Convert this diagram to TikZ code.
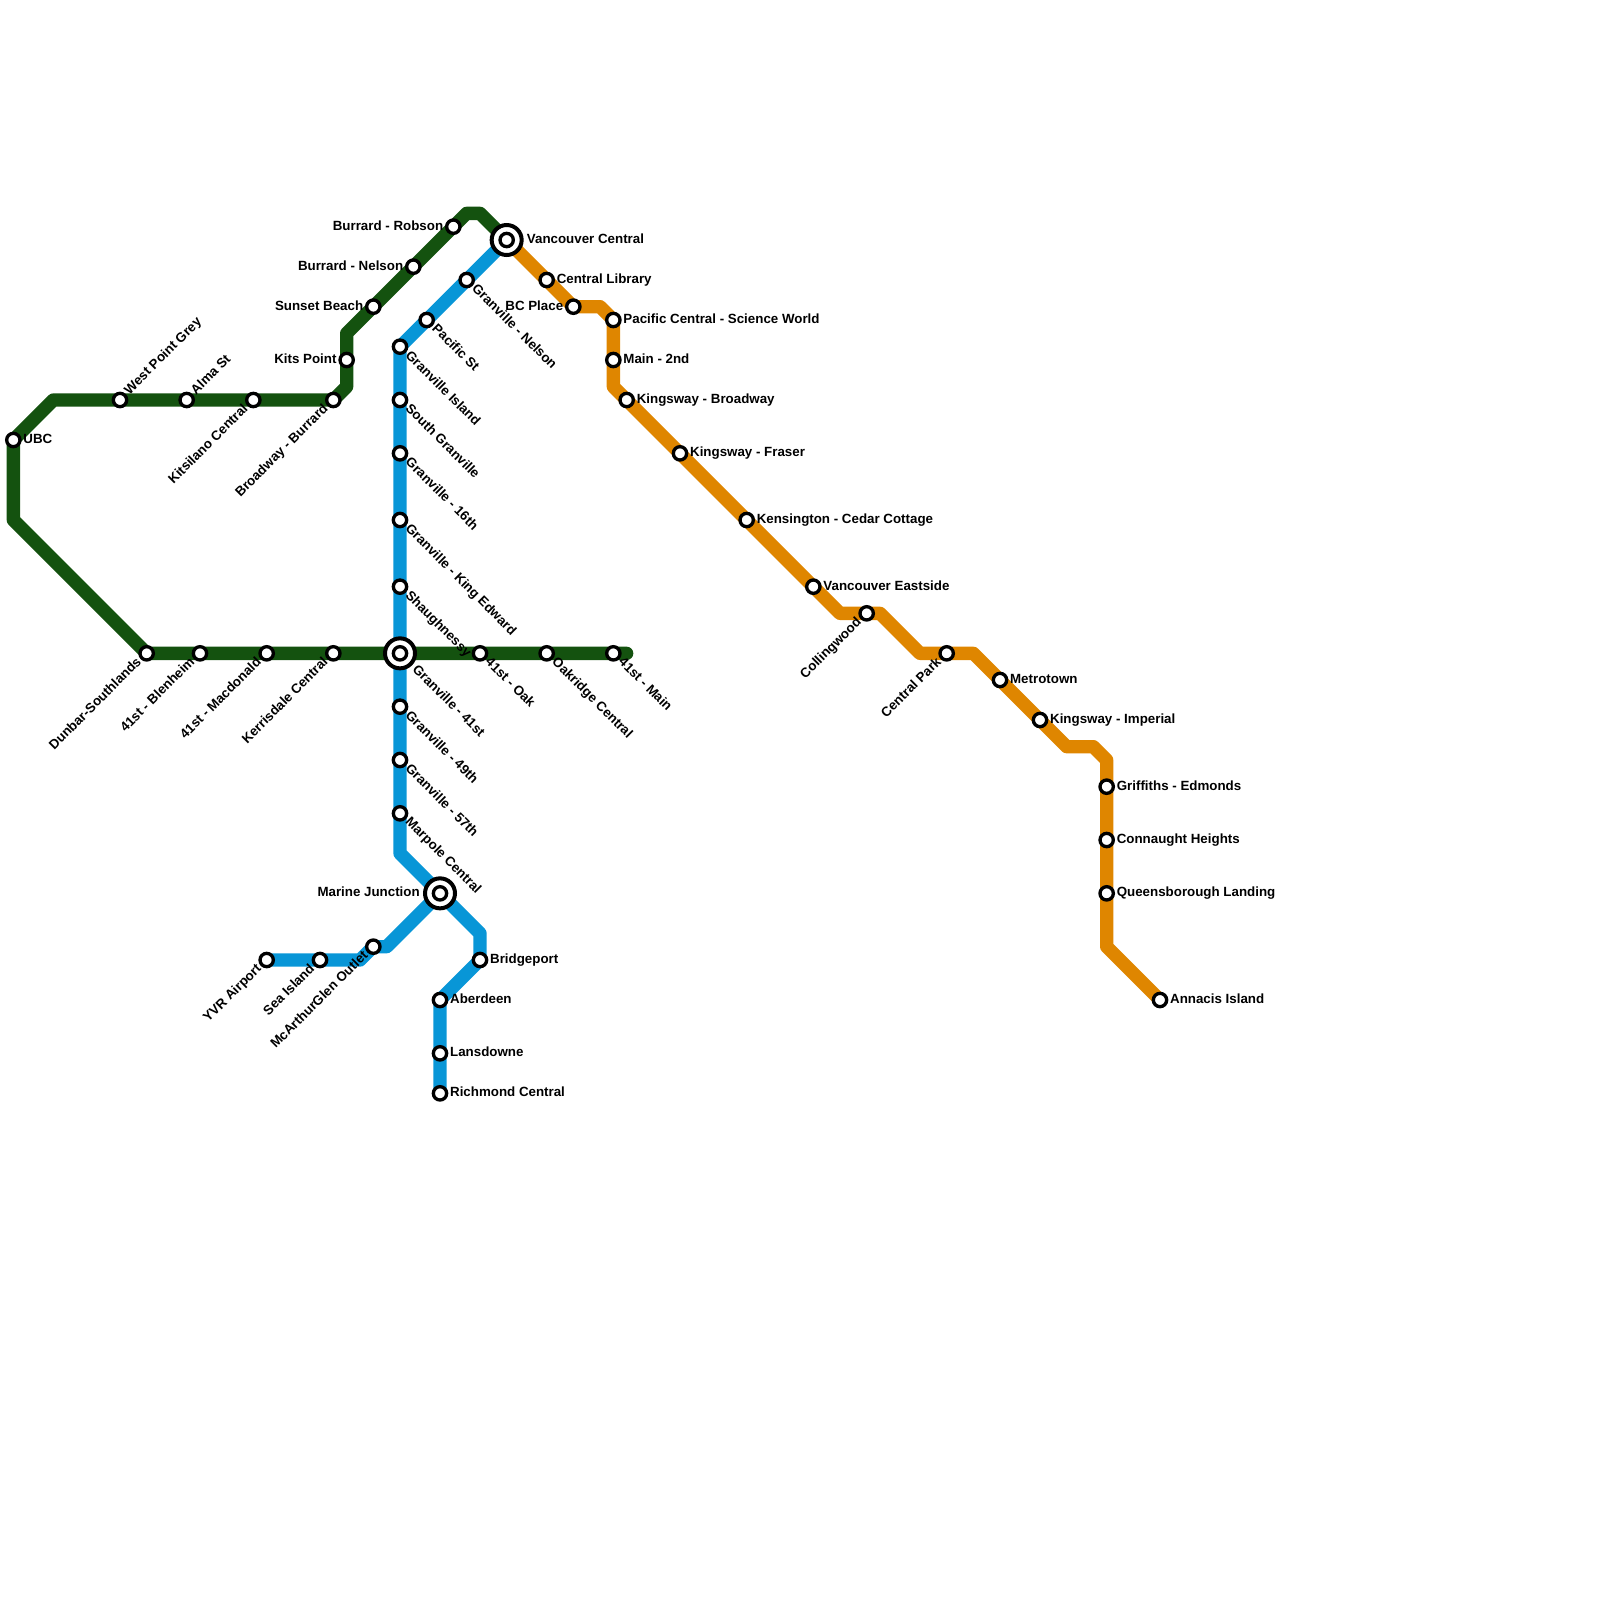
\documentclass[tikz,border=0pt]{standalone}
\usepackage{fontspec}
\setmainfont{Liberation Sans}
\usetikzlibrary{backgrounds}
\definecolor{greenline}{HTML}{14520F}
\definecolor{blueline}{HTML}{0896D7}
\definecolor{orangeline}{HTML}{DF8600}
\tikzset{
  route/.style={line width=10pt, line cap=round, line join=round},
  stn/.style={circle, draw=black, fill=white, line width=2.5pt, inner sep=0pt, minimum size=10pt},
  hubring/.style={circle, draw=black, fill=white, line width=3pt, inner sep=0pt, minimum size=22.5pt},
  tag/.style={font=\bfseries, text=black, inner ysep=0pt, text height=5pt, text depth=0pt},
  tage/.style={tag, anchor=west, inner xsep=7.4pt},
  tagw/.style={tag, anchor=east, inner xsep=7.4pt},
  tagne/.style={tage, rotate=45},
  tagse/.style={tage, rotate=-45},
  tagsw/.style={tagw, rotate=45},
  hubtage/.style={tage, inner xsep=15pt},
  hubtagw/.style={tagw, inner xsep=15pt},
  hubtagse/.style={tagse, inner xsep=15pt},
}
\begin{document}
\begin{tikzpicture}[x=10pt, y=-10pt]
  \useasboundingbox (0, 0) rectangle (120, 120);
  % interchanges
  \foreach \id/\x/\y/\side/\txt in {
    vancouver/38/18/hubtage/Vancouver Central,
    granville/30/49/hubtagse/Granville - 41st,
    marine/33/67/hubtagw/Marine Junction} {
    \node[hubring] (\id) at (\x, \y) {};
    \node[stn] (\id dot) at (\id) {};
    \node[\side] (\id tag) at (\id) {\txt};
  }
  % green stations
  \foreach \id/\x/\y/\side/\txt in {
    ubc/1/33/tage/UBC,
    westpoint/9/30/tagne/West Point Grey,
    alma/14/30/tagne/Alma St,
    kitsilano/19/30/tagsw/Kitsilano Central,
    broadway/25/30/tagsw/Broadway - Burrard,
    kits/26/27/tagw/Kits Point,
    sunset/28/23/tagw/Sunset Beach,
    nelson/31/20/tagw/Burrard - Nelson,
    robson/34/17/tagw/Burrard - Robson,
    dunbar/11/49/tagsw/Dunbar-Southlands,
    blenheim/15/49/tagsw/41st - Blenheim,
    macdonald/20/49/tagsw/41st - Macdonald,
    kerrisdale/25/49/tagsw/Kerrisdale Central,
    oak/36/49/tagse/41st - Oak,
    oakridge/41/49/tagse/Oakridge Central,
    mainst/46/49/tagse/41st - Main} {
    \node[stn] (\id) at (\x, \y) {};
    \node[\side] (\id tag) at (\id) {\txt};
  }
  % blue stations
  \foreach \id/\x/\y/\side/\txt in {
    grnelson/35/21/tagse/Granville - Nelson,
    pacific/32/24/tagse/Pacific St,
    island/30/26/tagse/Granville Island,
    southgr/30/30/tagse/South Granville,
    gr16/30/34/tagse/Granville - 16th,
    kinged/30/39/tagse/Granville - King Edward,
    shaugh/30/44/tagse/Shaughnessy,
    gr49/30/53/tagse/Granville - 49th,
    gr57/30/57/tagse/Granville - 57th,
    marpole/30/61/tagse/Marpole Central,
    mcarthur/28/71/tagsw/McArthurGlen Outlet,
    seaisland/24/72/tagsw/Sea Island,
    yvr/20/72/tagsw/YVR Airport,
    bridgeport/36/72/tage/Bridgeport,
    aberdeen/33/75/tage/Aberdeen,
    lansdowne/33/79/tage/Lansdowne,
    richmond/33/82/tage/Richmond Central} {
    \node[stn] (\id) at (\x, \y) {};
    \node[\side] (\id tag) at (\id) {\txt};
  }
  % orange stations
  \foreach \id/\x/\y/\side/\txt in {
    library/41/21/tage/Central Library,
    bcplace/43/23/tagw/BC Place,
    science/46/24/tage/Pacific Central - Science World,
    main2nd/46/27/tage/Main - 2nd,
    kbroadway/47/30/tage/Kingsway - Broadway,
    fraser/51/34/tage/Kingsway - Fraser,
    kensington/56/39/tage/Kensington - Cedar Cottage,
    eastside/61/44/tage/Vancouver Eastside,
    collingwood/65/46/tagsw/Collingwood,
    centralpark/71/49/tagsw/Central Park,
    metrotown/75/51/tage/Metrotown,
    imperial/78/54/tage/Kingsway - Imperial,
    griffiths/83/59/tage/Griffiths - Edmonds,
    connaught/83/63/tage/Connaught Heights,
    queensb/83/67/tage/Queensborough Landing,
    annacis/87/75/tage/Annacis Island} {
    \node[stn] (\id) at (\x, \y) {};
    \node[\side] (\id tag) at (\id) {\txt};
  }
  \coordinate (greenend) at (47, 49);
  \begin{scope}[on background layer]
    \draw[route, orangeline] (vancouver.center) -- (bcplace.center) -- (45, 23) -- (science.center)
      -- (46, 29) -- (63, 46) -- (66, 46) -- (69, 49) -- (73, 49) -- (80, 56) -- (82, 56)
      -- (83, 57) -- (83, 71) -- (annacis.center);
    \draw[route, greenline] (greenend) -- (dunbar.center) -- (1, 39) -- (ubc.center) -- (4, 30)
      -- (broadway.center) -- (26, 29) -- (26, 25) -- (35, 16) -- (36, 16) -- (vancouver.center);
    \draw[route, blueline] (vancouver.center) -- (island.center) -- (30, 64) -- (marine.center)
      -- (36, 70) -- (bridgeport.center) -- (aberdeen.center) -- (richmond.center);
    \draw[route, blueline] (marine.center) -- (29, 71) -- (mcarthur.center) -- (27, 72) -- (yvr.center);
  \end{scope}
\end{tikzpicture}
\end{document}
